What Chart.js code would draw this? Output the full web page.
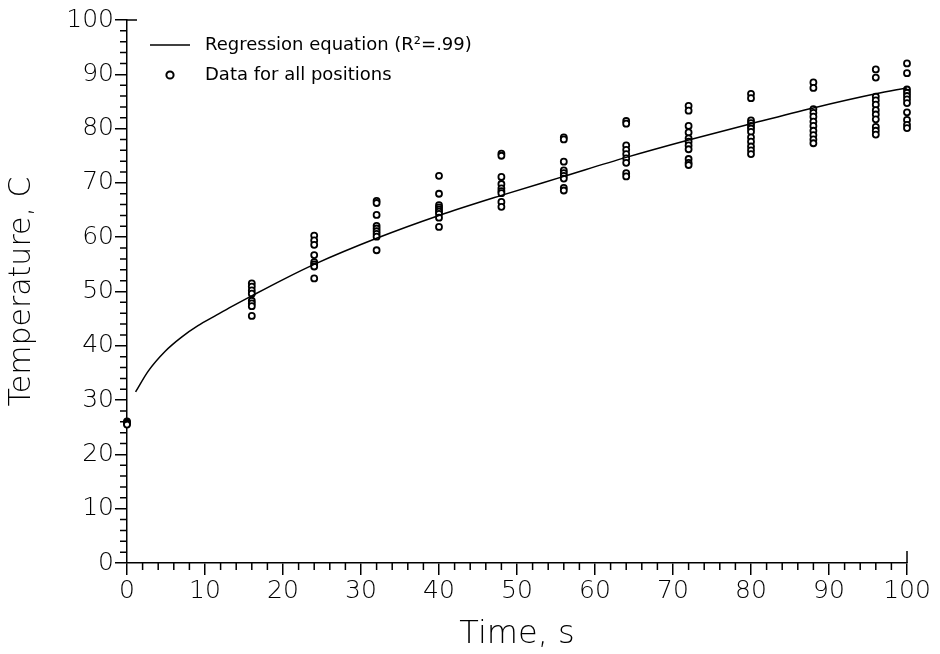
<!DOCTYPE html>
<html>
<head>
<meta charset="utf-8">
<script src="https://cdn.jsdelivr.net/npm/chart.js@4.4.1/dist/chart.umd.min.js"></script>
<style>
  html, body { margin: 0; padding: 0; background: #fff; }
  #wrap { width: 940px; height: 654px; }
</style>
</head>
<body>
<div id="wrap"><canvas id="chart"></canvas></div>
<script>
// measured temperatures, one list per sampling time (s)
const times = [0, 16, 24, 32, 40, 48, 56, 64, 72, 80, 88, 96, 100]
const temps_0 = [26.1, 25.9, 25.7, 25.5]
const temps_16 = [51.5, 50.9, 50.2, 49.6, 48.3, 47.8, 47.3, 45.5]
const temps_24 = [60.3, 59.4, 58.6, 56.7, 55.4, 55.0, 54.6, 52.4]
const temps_32 = [66.7, 66.3, 64.1, 62.1, 61.6, 61.1, 60.6, 60.1, 57.6]
const temps_40 = [71.3, 68.0, 65.9, 65.5, 65.1, 64.7, 64.3, 63.6, 61.9]
const temps_48 = [75.4, 75.0, 71.1, 69.8, 69.0, 68.5, 68.1, 66.5, 65.6]
const temps_56 = [78.4, 78.0, 73.9, 72.3, 71.8, 71.3, 70.8, 69.1, 68.6]
const temps_64 = [81.4, 80.9, 76.9, 76.1, 75.3, 74.5, 73.7, 71.8, 71.2]
const temps_72 = [84.2, 83.3, 80.5, 79.3, 78.2, 77.6, 76.9, 76.2, 74.4, 73.7, 73.3]
const temps_80 = [86.4, 85.6, 81.5, 81.0, 80.5, 80.0, 79.4, 78.4, 77.6, 76.7, 76.0, 75.3]
const temps_88 = [88.5, 87.5, 83.6, 82.9, 82.2, 81.3, 80.5, 79.6, 78.8, 78.0, 77.3]
const temps_96 = [90.9, 89.4, 85.9, 85.2, 84.4, 83.4, 82.6, 81.7, 80.3, 79.6, 78.9]
const temps_100 = [92.0, 90.2, 87.2, 86.6, 86.0, 85.4, 84.7, 83.0, 81.6, 80.7, 80.1]

// regression curve
const reg_time = [1.1, 2.7, 4.9, 7, 9.1, 11.3, 13.4, 16, 20, 24, 32, 40, 48, 56, 64, 72, 80, 88, 96, 100]
const reg_temp = [31.5, 35.3, 39.0, 41.6, 43.7, 45.5, 47.2, 49.2, 52.2, 55.0, 59.8, 64.0, 67.7, 71.2, 74.7, 77.9, 80.9, 83.8, 86.4, 87.5]

const axis_ticks = [0, 10, 20, 30, 40, 50, 60, 70, 80, 90, 100]

const reg_label = 'Regression equation (R\u00b2=.99)'
const data_label = 'Data for all positions'

const font_family = '"DejaVu Sans", "Liberation Sans", sans-serif'

const all_temps = [temps_0, temps_16, temps_24, temps_32, temps_40, temps_48, temps_56,
                   temps_64, temps_72, temps_80, temps_88, temps_96, temps_100]

let scatter_points = []
for (let i = 0; i < times.length; i++) {
    all_temps[i].forEach(t => scatter_points.push({x: times[i], y: t}))
}
const line_points = reg_time.map((t, i) => ({x: t, y: reg_temp[i]}))

// minor ticks every 2 units, plus the little hooks at both axis ends
const minor_ticks = {
    id: 'minor_ticks',
    afterDraw(chart) {
        const ctx = chart.ctx
        const xs = chart.scales.x
        const ys = chart.scales.y
        const area = chart.chartArea
        ctx.save()
        ctx.strokeStyle = '#000'
        ctx.lineWidth = 1.5
        ctx.beginPath()
        for (let v = 0; v <= 100; v += 2) {
            if (v % 10 == 0) continue
            const px = xs.getPixelForValue(v)
            ctx.moveTo(px, area.bottom)
            ctx.lineTo(px, area.bottom + 7)
            const py = ys.getPixelForValue(v)
            ctx.moveTo(area.left - 7, py)
            ctx.lineTo(area.left, py)
        }
        const x_end = xs.getPixelForValue(100)
        ctx.moveTo(x_end, area.bottom)
        ctx.lineTo(x_end, area.bottom - 12)
        const y_end = ys.getPixelForValue(100)
        ctx.moveTo(area.left, y_end)
        ctx.lineTo(area.left + 10, y_end)
        ctx.stroke()
        ctx.restore()
    }
}

// legend drawn by hand, the built-in one can't do a long line + small circle
const plot_legend = {
    id: 'plot_legend',
    afterDraw(chart) {
        const ctx = chart.ctx
        const area = chart.chartArea
        const sets = chart.data.datasets
        const x0 = area.left + 23
        const y0 = area.top + 25
        const row = 30
        ctx.save()
        ctx.fillStyle = '#000'
        ctx.strokeStyle = '#000'
        ctx.font = '18px ' + font_family
        ctx.textBaseline = 'middle'
        ctx.lineWidth = 1.5
        ctx.beginPath()
        ctx.moveTo(x0, y0)
        ctx.lineTo(x0 + 40, y0)
        ctx.stroke()
        ctx.fillText(sets[0].label, x0 + 55, y0)
        ctx.lineWidth = 2
        ctx.beginPath()
        ctx.arc(x0 + 20, y0 + row, 3.6, 0, Math.PI * 2)
        ctx.stroke()
        ctx.fillText(sets[1].label, x0 + 55, y0 + row)
        ctx.restore()
    }
}

function axis_options(title, title_size, is_x) {
    return {
        type: 'linear',
        min: 0,
        max: 100,
        afterBuildTicks: scale => { scale.ticks = axis_ticks.map(v => ({value: v})) },
        afterFit: scale => {
            if (is_x) scale.height = 91
            else scale.width = 127
        },
        border: {color: '#000', width: 1.5},
        grid: {drawOnChartArea: false, drawTicks: true, tickLength: 12, color: '#000', lineWidth: 1.5},
        ticks: {
            color: '#000',
            padding: 1,
            maxRotation: 0,
            autoSkip: false,
            font: {family: font_family, size: 25, weight: 200}
        },
        title: {
            display: true,
            text: title,
            color: '#000',
            padding: is_x ? {top: 0, bottom: 0} : {top: 4, bottom: 0},
            font: {family: font_family, size: title_size, weight: 200}
        }
    }
}

const config = {
    type: 'scatter',
    data: {
        datasets: [
            {
                type: 'line',
                label: reg_label,
                data: line_points,
                borderColor: '#000',
                borderWidth: 1.5,
                pointRadius: 0,
                fill: false,
                tension: 0.4,
                cubicInterpolationMode: 'monotone'
            },
            {
                label: data_label,
                data: scatter_points,
                pointStyle: 'circle',
                pointRadius: 3,
                borderColor: '#000',
                backgroundColor: '#fff',
                pointBorderWidth: 1.8,
                clip: false
            }
        ]
    },
    options: {
        responsive: true,
        maintainAspectRatio: false,
        animation: false,
        layout: {padding: {top: 20, right: 33, left: 0, bottom: 0}},
        plugins: {
            legend: {display: false},
            tooltip: {enabled: false}
        },
        scales: {
            x: axis_options('Time, s', 32, true),
            y: axis_options('Temperature, C', 30, false)
        }
    },
    plugins: [minor_ticks, plot_legend]
}

new Chart(document.getElementById('chart'), config)
</script>
</body>
</html>
